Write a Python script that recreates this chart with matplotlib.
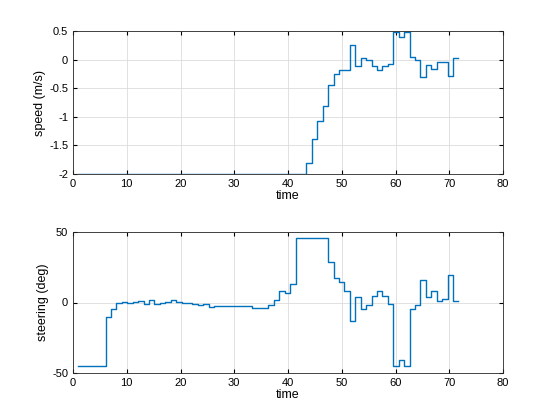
import numpy as np
import matplotlib
matplotlib.use('Agg')
import matplotlib.pyplot as plt

plt.rcParams['font.family'] = ['Liberation Sans', 'DejaVu Sans']
plt.rcParams['font.size'] = 8

# time samples, roughly 1 s apart
t = 1 + 1.01 * np.arange(71)

speed = [-2.0] * 42 + [
    -1.81, -1.39, -1.08, -0.81, -0.45, -0.25, -0.18, -0.18, 0.25, -0.12,
    0.02, -0.01, -0.12, -0.18, -0.12, -0.07, 0.48, 0.39, 0.48, 0.04,
    -0.01, -0.31, -0.10, -0.16, -0.05, -0.05, -0.29, 0.02, 0.02]

steering = [-45] * 5 + [
    -10.5, -4.8, -0.6, 0.1, -0.6, 0.1, 0.8, -1.3, 1.5, -1.0,
    -0.6, 0.3, 1.5, 0.3, -0.4, -0.4, -1.0, -2.0, -1.3, -3.2] + \
    [-2.7] * 7 + [-4.1] * 3 + [-2.0, 1.5, 8.0, 6.8, 13.2] + [45.8] * 6 + [
    28.5, 17.2, 14.3, 8.0, -13.1, 3.7, -4.8, -2.0, 4.4, 8.0,
    4.4, -1.3, -45.2, -41.0, -45.2, -4.8, -2.0, 15.7, 3.7, 8.0,
    0.9, 2.3, 19.3, 0.9, 0.9]

fig = plt.figure(figsize=(5.6, 4.2), dpi=100)
ax1 = fig.add_axes([73/560, 1-174/420, 430/560, 143/420])
ax2 = fig.add_axes([73/560, 1-373/420, 430/560, 141/420])

line_color = '#0072BD'
for ax, y, ylab, lim, ticks in [
        (ax1, speed, 'speed (m/s)', (-2, 0.5), [-2, -1.5, -1, -0.5, 0, 0.5]),
        (ax2, steering, 'steering (deg)', (-50, 50), [-50, 0, 50])]:
    ax.plot(t, y, drawstyle='steps-post', color=line_color, lw=1)
    ax.set_xlim(0, 80)
    ax.set_ylim(*lim)
    ax.set_xticks(range(0, 81, 10))
    ax.set_yticks(ticks)
    ax.set_yticklabels([f'{v:g}' for v in ticks])
    ax.grid(True, color='#dcdcdc', lw=0.6)
    ax.set_axisbelow(True)
    ax.tick_params(direction='in', length=3, top=True, right=True, labelsize=8)
    for s in ax.spines.values():
        s.set_color('#262626')
        s.set_linewidth(0.6)
    ax.set_xlabel('time', fontsize=9, labelpad=1)
    ax.set_ylabel(ylab, fontsize=9, labelpad=2)

fig.savefig('out.png', dpi=100)
